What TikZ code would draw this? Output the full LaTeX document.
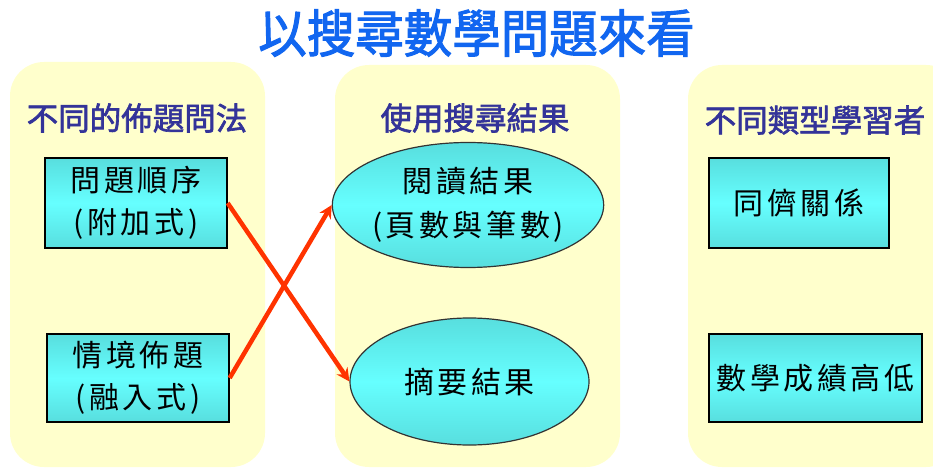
\documentclass[tikz,border=0pt]{standalone}
\usepackage{fontspec}
\newfontfamily\cjk[AutoFakeBold=2]{Noto Sans CJK TC}
\newfontfamily\cjkls[LetterSpace=12]{Noto Sans CJK TC}
\usetikzlibrary{shapes.geometric,arrows.meta}
\definecolor{panelfill}{HTML}{FFFFCC}
\definecolor{titleblue}{HTML}{1166F0}
\definecolor{headblue}{HTML}{333399}
\definecolor{cyandark}{HTML}{58DEDE}
\definecolor{cyanlight}{HTML}{66FFFF}
\definecolor{arrowred}{HTML}{FF3300}
\tikzset{
  cyanbox/.style={draw=black, line width=1.3pt, rectangle, inner sep=0pt,
    top color=cyandark, bottom color=cyandark, middle color=cyanlight,
    font=\cjkls\fontsize{30}{42}\selectfont, align=center},
  cyanell/.style={draw=black!80, line width=1.2pt, ellipse, inner sep=0pt,
    top color=cyandark, bottom color=cyandark, middle color=cyanlight,
    font=\cjkls\fontsize{30}{44}\selectfont, align=center},
  header/.style={text=headblue, font=\cjk\bfseries\fontsize{31.5}{36}\selectfont},
  cross/.style={draw=arrowred, line width=4.5pt, -{Stealth[length=13pt,width=13pt]}}
}
\begin{document}
\begin{tikzpicture}[x=1pt,y=-1pt]
\useasboundingbox (0,0) rectangle (933,468);
\clip (0,0) rectangle (933,468);
\fill[white] (0,0) rectangle (933,468);
% panels
\fill[panelfill, rounded corners=34pt] (10,62) rectangle (265,467);
\fill[panelfill, rounded corners=34pt] (335,65) rectangle (620,467);
\fill[panelfill, rounded corners=34pt] (688,65) rectangle (960,467);
% title
\node (title) at (476.5,33) {\cjk\bfseries\fontsize{48.5}{50}\selectfont\color{titleblue}\scalebox{1}[1.06]{以搜尋數學問題來看}};
% headers
\node[header] (hL) at (137,118) {不同的佈題問法};
\node[header] (hM) at (475,118) {使用搜尋結果};
\node[header] (hR) at (815,120) {不同類型學習者};
% boxes
\node[cyanbox, minimum width=182pt, minimum height=90pt] (b1) at (136,203) {問題順序\\(附加式)};
\node[cyanbox, minimum width=182pt, minimum height=88pt] (b2) at (138,378) {情境佈題\\(融入式)};
\node[cyanbox, minimum width=180pt, minimum height=90pt] (b3) at (799,203) {同儕關係};
\node[cyanbox, minimum width=213pt, minimum height=88pt] (b4) at (815.5,378) {數學成績高低};
% ellipses
\node[cyanell, minimum width=240pt, minimum height=125pt] (e1) at (468,205) {閱讀結果\\(頁數與筆數)};
\node[cyanell, minimum width=239pt, minimum height=127pt] (e2) at (469.5,381.5) {摘要結果};
% arrows
\draw[cross] (b1.east) -- (e2.west);
\draw[cross] (b2.east) -- (e1.west);
\end{tikzpicture}
\end{document}
